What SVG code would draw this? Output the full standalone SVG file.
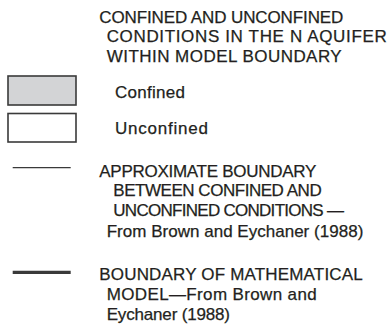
<svg xmlns="http://www.w3.org/2000/svg" width="390" height="329" viewBox="0 0 390 329">
  <style>
    .t { font-family: "Liberation Sans", Arial, sans-serif; font-size: 17px; fill: #231f20; stroke: #231f20; stroke-width: 0.25; }
    .box { stroke: #3a3a3a; stroke-width: 1.6; }
    .line { stroke: #3a3a3a; }
  </style>
  <rect width="390" height="329" fill="#ffffff"/>
  <g id="title">
    <text class="t" x="99.3" y="22.5" textLength="244" lengthAdjust="spacing">CONFINED AND UNCONFINED</text>
    <text class="t" x="106.7" y="42" textLength="280" lengthAdjust="spacing">CONDITIONS IN THE N AQUIFER</text>
    <text class="t" x="106.7" y="61.5" textLength="235" lengthAdjust="spacing">WITHIN MODEL BOUNDARY</text>
  </g>
  <g id="confined">
    <rect class="box" x="8" y="76" width="68" height="29" fill="#d3d4d6"/>
    <text class="t" x="115" y="98.3" textLength="70" lengthAdjust="spacing">Confined</text>
  </g>
  <g id="unconfined">
    <rect class="box" x="8" y="113.5" width="68" height="28.5" fill="#ffffff"/>
    <text class="t" x="115" y="134.3" textLength="93" lengthAdjust="spacing">Unconfined</text>
  </g>
  <g id="connectors">
    <line id="approx-line" class="line" x1="12.7" y1="167.7" x2="70.7" y2="167.7" stroke-width="1.3"/>
    <line id="model-line" class="line" x1="12.7" y1="272.3" x2="70.7" y2="272.3" stroke-width="3.3"/>
  </g>
  <g id="approximate-boundary">
    <text class="t" x="99.3" y="176.7" textLength="217" lengthAdjust="spacing">APPROXIMATE BOUNDARY</text>
    <text class="t" x="113.3" y="196" textLength="208.4" lengthAdjust="spacing">BETWEEN CONFINED AND</text>
    <text class="t" x="113.3" y="215.8" textLength="230.7" lengthAdjust="spacing">UNCONFINED CONDITIONS —</text>
    <text class="t" x="106.7" y="236.5" textLength="256.6" lengthAdjust="spacing">From Brown and Eychaner (1988)</text>
  </g>
  <g id="model-boundary">
    <text class="t" x="99.3" y="280.2" textLength="263.4" lengthAdjust="spacing">BOUNDARY OF MATHEMATICAL</text>
    <text class="t" x="106.7" y="300" textLength="210" lengthAdjust="spacing">MODEL—From Brown and</text>
    <text class="t" x="106.7" y="319.8" textLength="123.3" lengthAdjust="spacing">Eychaner (1988)</text>
  </g>
</svg>
